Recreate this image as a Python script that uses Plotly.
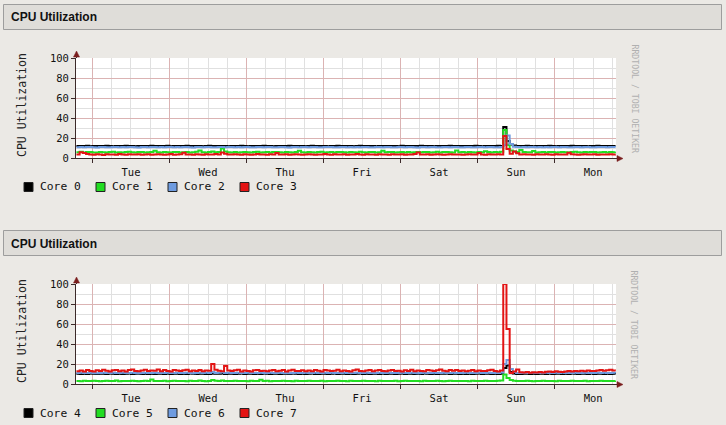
import pandas as pd
import plotly.graph_objects as go

W, H = 726, 425

# hourly samples, Mon 19:00 -> next Mon 19:00
times = pd.date_range("2010-03-01 19:00", periods=169, freq="h")

top_names = ["Core 0", "Core 1", "Core 2", "Core 3"]
bottom_names = ["Core 4", "Core 5", "Core 6", "Core 7"]
colors = ["#000000", "#22dd22", "#6f9ce0", "#e31414"]

core0 = [
    12.1, 11.9, 12.0, 12.2, 11.8, 12.0, 12.1, 11.9, 12.0, 12.2, 12.0, 11.8, 12.1, 12.0, 11.9, 12.2, 12.0, 12.1, 11.8, 12.0, 12.1, 11.9, 12.0, 12.2,
    12.0, 11.9, 12.1, 12.0, 12.2, 11.8, 12.0, 12.1, 11.9, 12.0, 12.2, 12.0, 11.9, 12.1, 12.0, 11.8, 12.0, 12.2, 12.1, 11.9, 12.0, 12.1, 12.0, 11.8,
    12.1, 12.0, 11.9, 12.2, 12.0, 11.8, 12.1, 12.0, 12.0, 11.9, 12.2, 12.1, 12.0, 11.8, 12.0, 12.1, 11.9, 12.0, 12.2, 12.0, 11.9, 12.1, 12.0, 11.8,
    12.0, 12.2, 11.9, 12.0, 12.1, 12.0, 11.8, 12.0, 12.1, 12.2, 11.9, 12.0, 12.0, 12.1, 11.8, 12.0, 12.2, 11.9, 12.0, 12.1, 12.0, 11.8, 12.1, 12.0,
    11.9, 12.0, 12.1, 12.0, 11.8, 12.2, 12.0, 11.9, 12.1, 12.0, 12.0, 12.2, 11.9, 12.0, 12.1, 11.8, 12.0, 12.1, 12.0, 11.9, 12.2, 12.0, 12.1, 11.9,
    12.0, 12.1, 11.9, 12.0, 12.2, 12.0, 11.8, 12.1, 12.0, 11.9, 12.0, 12.2, 12.1, 31.0, 17.0, 13.5, 12.6, 12.1, 11.9, 12.0, 12.2, 12.0, 11.8, 12.1,
    12.0, 11.9, 12.1, 12.2, 12.0, 11.8, 12.0, 12.1, 11.9, 12.0, 12.2, 12.0, 12.1, 11.9, 12.0, 11.8, 12.1, 12.0, 12.2, 11.9, 12.0, 12.1, 12.0, 11.9,
    12.0,
]
core1 = [
    5.8, 6.2, 5.4, 5.9, 6.1, 5.6, 5.5, 6.0, 5.7, 5.4, 5.9, 6.2, 5.6, 5.8, 5.5, 6.0, 6.3, 5.7, 5.4, 5.9, 6.1, 5.6, 5.8, 6.0,
    7.2, 5.7, 5.5, 6.0, 5.8, 5.4, 5.9, 6.1, 5.6, 5.8, 6.0, 5.5, 5.7, 6.2, 7.4, 5.8, 5.6, 6.0, 6.5, 5.7, 6.1, 9.5, 6.6, 5.8,
    5.6, 6.0, 5.5, 5.8, 6.1, 5.7, 5.4, 5.9, 6.2, 5.6, 5.8, 6.0, 5.5, 5.9, 6.1, 5.7, 5.6, 6.0, 5.8, 5.4, 5.9, 7.3, 5.8, 5.6,
    6.0, 5.7, 5.5, 5.9, 6.2, 5.6, 5.8, 6.0, 5.4, 5.9, 6.1, 5.7, 5.5, 6.0, 5.8, 5.6, 6.2, 5.7, 5.5, 5.9, 6.0, 5.6, 5.8, 7.2,
    5.7, 5.9, 6.1, 5.5, 5.8, 6.0, 5.6, 5.9, 5.4, 5.8, 6.1, 5.7, 5.9, 6.0, 5.5, 5.8, 6.2, 5.6, 5.9, 6.0, 5.7, 5.5, 7.6, 5.8,
    5.9, 5.6, 6.0, 5.8, 5.5, 6.1, 5.7, 6.8, 5.9, 5.6, 6.0, 5.8, 6.2, 28.0, 13.0, 7.5, 6.4, 5.9, 8.0, 6.1, 5.7, 5.8, 6.9, 5.6,
    5.8, 6.0, 5.6, 5.9, 6.1, 5.5, 5.8, 6.0, 5.7, 5.6, 5.9, 6.2, 5.8, 5.5, 6.0, 5.7, 5.9, 6.1, 5.6, 5.8, 6.0, 5.5, 5.9, 5.7,
    5.8,
]
core2 = [
    10.8, 11.0, 10.7, 10.9, 11.1, 10.8, 10.6, 10.9, 11.0, 10.8, 10.7, 11.1, 10.9, 10.8, 11.0, 10.7, 10.9, 11.0, 10.8, 10.6, 10.9, 11.1, 10.8, 10.9,
    11.0, 10.8, 10.9, 10.7, 11.0, 10.9, 10.8, 11.1, 10.7, 10.9, 11.0, 10.8, 10.6, 10.9, 11.0, 10.8, 11.1, 10.9, 10.7, 10.8, 11.0, 10.9, 10.8, 11.0,
    10.9, 10.7, 11.0, 10.8, 10.9, 11.1, 10.8, 10.7, 10.9, 11.0, 10.8, 10.9, 11.1, 10.7, 10.8, 11.0, 10.9, 10.8, 10.6, 10.9, 11.0, 10.8, 10.9, 11.1,
    10.8, 10.9, 11.0, 10.7, 10.8, 11.0, 10.9, 11.1, 10.8, 10.7, 10.9, 11.0, 10.8, 10.9, 10.7, 11.0, 10.8, 10.9, 11.1, 10.8, 10.7, 10.9, 11.0, 10.8,
    10.9, 11.0, 10.8, 10.7, 10.9, 11.1, 10.8, 10.9, 11.0, 10.8, 10.6, 10.9, 11.0, 10.8, 10.9, 11.1, 10.7, 10.8, 11.0, 10.9, 10.8, 11.0, 10.9, 10.7,
    10.8, 11.0, 10.9, 10.7, 10.8, 11.0, 10.9, 10.8, 11.1, 10.9, 10.7, 10.8, 11.0, 13.0, 22.5, 14.0, 11.2, 10.9, 10.8, 11.0, 10.7, 10.9, 11.0, 10.8,
    10.9, 10.8, 11.0, 10.7, 10.9, 11.0, 10.8, 11.1, 10.9, 10.8, 10.7, 11.0, 10.9, 10.8, 11.0, 10.9, 10.7, 10.8, 11.0, 10.9, 11.1, 10.8, 10.9, 11.0,
    10.9,
]
core3 = [
    3.6, 5.8, 5.0, 3.9, 3.4, 3.2, 3.7, 3.5, 3.1, 3.8, 3.4, 3.6, 3.3, 3.9, 3.5, 3.2, 3.7, 3.4, 3.6, 3.8, 3.3, 3.5, 3.7, 3.2,
    3.5, 3.8, 3.4, 3.2, 3.6, 3.9, 3.3, 3.5, 3.7, 5.2, 3.6, 3.4, 3.2, 3.8, 3.5, 3.3, 3.7, 3.4, 3.6, 3.9, 3.5, 5.6, 4.2, 3.6,
    3.4, 3.7, 3.5, 3.2, 3.8, 3.6, 3.3, 3.5, 3.9, 3.4, 3.6, 3.2, 3.7, 3.5, 5.1, 3.4, 3.6, 3.8, 3.3, 3.5, 3.7, 3.4, 3.2, 3.6,
    3.8, 3.5, 3.3, 3.6, 3.4, 3.9, 3.5, 3.2, 3.7, 3.6, 3.4, 3.8, 3.3, 3.5, 3.6, 3.9, 3.4, 3.2, 3.7, 3.5, 3.6, 3.3, 3.8, 3.4,
    3.6, 3.3, 3.7, 3.5, 3.4, 3.8, 3.2, 3.6, 3.5, 3.9, 5.4, 3.6, 3.4, 3.7, 3.3, 3.5, 3.8, 3.6, 3.2, 3.5, 3.7, 3.4, 3.6, 3.5,
    3.3, 3.6, 3.8, 3.4, 3.5, 5.0, 3.6, 3.3, 3.7, 3.5, 3.4, 3.8, 3.6, 22.0, 9.0, 4.2, 6.5, 4.8, 3.5, 3.7, 3.4, 3.6, 3.3, 3.8,
    3.5, 3.4, 3.7, 3.6, 3.3, 3.8, 3.5, 3.6, 3.4, 5.2, 3.7, 3.5, 3.3, 3.6, 3.8, 3.4, 3.5, 3.7, 3.2, 3.6, 3.5, 3.4, 3.7, 3.5,
    3.6,
]
core4 = [
    10.2, 10.0, 10.3, 10.1, 10.4, 10.2, 10.0, 10.3, 10.2, 10.1, 10.4, 10.2, 10.0, 10.3, 10.1, 10.2, 10.4, 10.0, 10.2, 10.3, 10.1, 10.2, 10.0, 10.3,
    10.1, 10.3, 10.2, 10.0, 10.4, 10.1, 10.2, 10.3, 10.0, 10.2, 10.1, 10.4, 10.2, 10.0, 10.3, 10.2, 10.1, 10.0, 10.6, 10.2, 10.3, 10.5, 10.1, 10.2,
    10.3, 10.1, 10.2, 10.4, 10.0, 10.2, 10.3, 10.1, 10.2, 10.0, 10.4, 10.2, 10.1, 10.3, 10.2, 10.0, 10.2, 10.3, 10.1, 10.4, 10.2, 10.0, 10.3, 10.1,
    10.2, 10.4, 10.1, 10.0, 10.3, 10.2, 10.1, 10.2, 10.4, 10.0, 10.3, 10.2, 10.1, 10.2, 10.0, 10.3, 10.4, 10.1, 10.2, 10.0, 10.3, 10.2, 10.1, 10.4,
    10.0, 10.2, 10.3, 10.1, 10.2, 10.4, 10.0, 10.3, 10.2, 10.1, 10.2, 10.0, 10.4, 10.3, 10.1, 10.2, 10.0, 10.3, 10.2, 10.4, 10.1, 10.2, 10.3, 10.0,
    10.2, 10.1, 10.3, 10.0, 10.2, 10.4, 10.1, 10.2, 10.3, 10.0, 10.2, 10.1, 10.3, 16.0, 18.5, 12.0, 10.4, 10.1, 10.0, 10.2, 10.3, 10.1, 10.2, 10.0,
    10.3, 10.2, 10.0, 10.4, 10.1, 10.2, 10.3, 10.0, 10.2, 10.1, 10.4, 10.2, 10.0, 10.3, 10.2, 10.1, 10.4, 10.0, 10.2, 10.3, 10.1, 10.2, 10.0, 10.3,
    10.2,
]
core5 = [
    3.0, 2.8, 3.2, 3.1, 2.9, 3.3, 3.0, 2.7, 3.1, 3.2, 2.9, 3.0, 3.4, 2.8, 3.1, 3.0, 2.9, 3.2, 3.1, 2.8, 3.0, 3.3, 2.9, 4.4,
    3.1, 2.9, 3.0, 3.2, 2.8, 3.1, 3.3, 2.9, 3.0, 3.1, 2.8, 3.2, 3.0, 2.9, 3.4, 3.1, 2.8, 3.0, 3.9, 3.2, 3.0, 3.6, 3.1, 2.9,
    3.0, 3.2, 2.9, 3.1, 3.0, 2.8, 3.3, 3.1, 2.9, 4.3, 3.0, 3.2, 2.8, 3.1, 3.0, 2.9, 3.3, 3.0, 3.1, 2.8, 3.2, 3.0, 2.9, 3.1,
    3.2, 2.9, 3.1, 3.0, 3.3, 2.8, 3.0, 3.1, 2.9, 3.2, 3.0, 3.1, 2.8, 3.3, 3.0, 2.9, 3.1, 3.2, 2.9, 3.0, 3.1, 2.8, 3.2, 3.0,
    2.9, 3.1, 3.0, 3.2, 2.8, 3.1, 3.3, 3.0, 2.9, 3.1, 3.0, 2.8, 3.2, 3.1, 2.9, 3.0, 3.3, 3.1, 2.8, 3.0, 3.2, 2.9, 3.1, 3.0,
    3.1, 3.0, 2.8, 3.2, 3.1, 2.9, 3.0, 3.3, 3.1, 2.9, 3.0, 3.2, 3.4, 9.5, 6.0, 4.0, 3.3, 3.1, 2.9, 3.0, 3.2, 3.1, 2.8, 3.0,
    3.0, 3.2, 2.9, 3.1, 3.0, 2.8, 3.2, 3.1, 2.9, 3.0, 3.3, 3.0, 2.9, 3.1, 3.2, 2.8, 3.0, 3.1, 2.9, 3.2, 3.0, 3.1, 2.9, 3.0,
    3.1,
]
core6 = [
    11.0, 11.2, 10.9, 11.1, 11.3, 11.0, 10.8, 11.1, 11.2, 11.0, 10.9, 11.3, 11.1, 11.0, 11.2, 10.9, 11.1, 11.2, 11.0, 10.8, 11.1, 11.3, 11.0, 11.1,
    11.2, 11.0, 11.1, 10.9, 11.2, 11.1, 11.0, 11.3, 10.9, 11.1, 11.2, 11.0, 10.8, 11.1, 11.2, 11.0, 11.3, 11.1, 12.0, 11.0, 11.2, 11.8, 11.0, 11.2,
    11.1, 10.9, 11.2, 11.0, 11.1, 11.3, 11.0, 10.9, 11.1, 11.2, 11.0, 11.1, 11.3, 10.9, 11.0, 11.2, 11.1, 11.0, 10.8, 11.1, 11.2, 11.0, 11.1, 11.3,
    11.0, 11.1, 11.2, 10.9, 11.0, 11.2, 11.1, 11.3, 11.0, 10.9, 11.1, 11.2, 11.0, 11.1, 10.9, 11.2, 11.0, 11.1, 11.3, 11.0, 10.9, 11.1, 11.2, 11.0,
    11.1, 11.2, 11.0, 10.9, 11.1, 11.3, 11.0, 11.1, 11.2, 11.0, 10.8, 11.1, 11.2, 11.0, 11.1, 11.3, 10.9, 11.0, 11.2, 11.1, 11.0, 11.2, 11.1, 10.9,
    11.0, 11.2, 11.1, 10.9, 11.0, 11.2, 11.1, 11.0, 11.3, 11.1, 10.9, 11.0, 11.6, 20.0, 24.0, 15.0, 12.0, 11.1, 11.0, 11.2, 10.9, 11.1, 11.2, 11.0,
    11.1, 11.0, 11.2, 10.9, 11.1, 11.2, 11.0, 11.3, 11.1, 11.0, 10.9, 11.2, 11.1, 11.0, 11.2, 11.1, 10.9, 11.0, 11.2, 11.1, 11.3, 11.0, 11.1, 11.2,
    11.1,
]
core7 = [
    12.8, 13.6, 12.4, 14.1, 13.0, 12.6, 13.8, 12.9, 14.3, 13.2, 12.5, 13.7, 14.0, 12.8, 13.4, 12.6, 13.9, 14.4, 13.1, 12.7, 13.5, 14.2, 12.9, 13.6,
    13.3, 14.5, 12.8, 13.9, 13.1, 12.6, 14.0, 13.4, 12.9, 13.8, 14.2, 12.7, 13.5, 13.0, 14.1, 12.8, 13.6, 13.2, 20.0, 14.2, 13.3, 12.7, 18.0, 13.5,
    12.9, 13.7, 14.2, 12.6, 13.4, 13.0, 12.5, 13.8, 14.1, 12.9, 13.3, 12.7, 13.6, 14.0, 12.8, 13.2, 13.9, 12.6, 13.5, 14.3, 12.9, 13.1, 13.7, 12.8,
    13.4, 12.7, 13.9, 13.2, 12.6, 14.0, 13.5, 12.9, 13.3, 14.2, 12.8, 13.6, 13.1, 12.5, 13.8, 14.4, 13.0, 12.7, 13.6, 13.9, 12.8, 13.4, 14.1, 13.0,
    12.7, 13.5, 14.0, 12.9, 13.3, 12.6, 13.8, 13.1, 14.2, 12.8, 13.6, 13.0, 12.7, 14.1, 13.4, 12.9, 13.7, 14.5, 13.2, 12.8, 13.9, 13.3, 14.0, 12.9,
    13.6, 12.8, 13.2, 14.0, 12.7, 13.5, 13.1, 12.9, 13.8, 14.2, 13.0, 12.6, 13.4, 100.0, 55.0, 11.0, 12.5, 14.6, 11.8, 11.4, 11.9, 11.2, 11.7, 11.5,
    12.0, 11.6, 12.2, 12.5, 11.9, 12.8, 12.3, 12.0, 12.6, 12.9, 12.4, 13.1, 12.7, 13.3, 12.8, 13.6, 13.0, 12.9, 13.5, 14.0, 13.2, 13.8, 14.3, 13.6,
    13.4,
]

panels = [
    (top_names, [core0, core1, core2, core3], 0),
    (bottom_names, [core4, core5, core6, core7], 226),
]

MONO = "DejaVu Sans Mono"
BG = "#ebe9e5"
AXIS = "#3c2a2a"
ARROW = "#7a1e1e"
MAJOR = "#dbb3b3"
MINOR = "#e0e0e0"


def px(x):
    return x / W


def py(y):
    return 1 - y / H


fig = go.Figure()
shapes = []
annotations = []
layout_axes = {}

for i, (names, series, off) in enumerate(panels):
    n = "" if i == 0 else str(i + 1)
    for name, values, color in zip(names, series, colors):
        fig.add_trace(go.Scatter(
            x=times, y=values, name=name, mode="lines", line_shape="hv",
            line=dict(color=color, width=2), xaxis="x" + n, yaxis="y" + n,
            showlegend=False,
        ))

    layout_axes["xaxis" + n] = dict(
        domain=[px(76), px(616)], anchor="y" + n, type="date", automargin=False,
        range=["2010-03-01 18:52", "2010-03-08 19:08"],
        tick0="2010-03-01", dtick=86400000, tickformat="%a", ticklabelmode="period",
        showgrid=True, gridcolor=MAJOR, gridwidth=1,
        minor=dict(dtick=21600000, showgrid=True, gridcolor=MINOR, gridwidth=1),
        ticks="outside", ticklen=4, tickcolor=AXIS,
        showline=True, linecolor=AXIS, linewidth=1, zeroline=False,
        tickfont=dict(family=MONO, size=10.5, color="#111"),
        fixedrange=True,
    )
    layout_axes["yaxis" + n] = dict(
        domain=[py(158 + off), py(58 + off)], anchor="x" + n, automargin=False,
        range=[0, 100], tick0=0, dtick=20,
        showgrid=True, gridcolor=MAJOR, gridwidth=1,
        minor=dict(dtick=10, showgrid=True, gridcolor=MINOR, gridwidth=1),
        ticks="outside", ticklen=4, tickcolor=AXIS,
        showline=True, linecolor=AXIS, linewidth=1, zeroline=False,
        tickfont=dict(family=MONO, size=10.5, color="#111"),
        fixedrange=True,
    )

    # header bar
    shapes.append(dict(type="rect", xref="paper", yref="paper",
                       x0=px(3.5), x1=px(721.5), y0=py(29.5 + off), y1=py(4.5 + off),
                       fillcolor="#dfddd9", line=dict(color="#9d9d9d", width=1), layer="below"))
    annotations.append(dict(text="CPU Utilization", xref="paper", yref="paper",
                            x=px(9), y=py(17.5 + off), xanchor="left", yanchor="middle",
                            showarrow=False,
                            font=dict(family="Liberation Sans, Arial", size=12, weight="bold", color="#111")))
    # y title
    annotations.append(dict(text="CPU Utilization", xref="paper", yref="paper",
                            x=px(22), y=py(105 + off), textangle=-90,
                            xanchor="center", yanchor="middle", showarrow=False,
                            font=dict(family=MONO, size=11.5, color="#222")))
    # watermark
    annotations.append(dict(text="RRDTOOL / TOBI OETIKER", xref="paper", yref="paper",
                            x=px(634), y=py(98.5 + off), textangle=90,
                            xanchor="center", yanchor="middle", showarrow=False,
                            font=dict(family=MONO, size=8.2, color="#b0b0b0")))
    # axis arrows
    shapes.append(dict(type="line", xref="paper", yref="paper",
                       x0=px(76.5), x1=px(76.5), y0=py(58 + off), y1=py(53 + off),
                       line=dict(color=AXIS, width=1)))
    shapes.append(dict(type="path", xref="paper", yref="paper",
                       path=f"M {px(76.5)},{py(51 + off)} L {px(73.5)},{py(57 + off)} L {px(79.5)},{py(57 + off)} Z",
                       fillcolor=ARROW, line=dict(color=ARROW, width=0.5)))
    shapes.append(dict(type="line", xref="paper", yref="paper",
                       x0=px(616), x1=px(618), y0=py(158.5 + off), y1=py(158.5 + off),
                       line=dict(color=AXIS, width=1)))
    shapes.append(dict(type="path", xref="paper", yref="paper",
                       path=f"M {px(623)},{py(158.5 + off)} L {px(617)},{py(155.5 + off)} L {px(617)},{py(161.5 + off)} Z",
                       fillcolor=ARROW, line=dict(color=ARROW, width=0.5)))

    # legend row
    for j, (name, color) in enumerate(zip(names, colors)):
        x0 = 24 + 72 * j
        yc = 187 + off
        shapes.append(dict(type="rect", xref="paper", yref="paper",
                           x0=px(x0), x1=px(x0 + 9), y0=py(yc + 4.5), y1=py(yc - 4.5),
                           fillcolor=color, line=dict(color="#222", width=1)))
        annotations.append(dict(text=name, xref="paper", yref="paper",
                                x=px(x0 + 14), y=py(yc), xanchor="left", yanchor="middle",
                                showarrow=False,
                                font=dict(family=MONO, size=11.3, color="#111")))

fig.update_layout(
    width=W, height=H,
    margin=dict(l=0, r=0, t=0, b=0, autoexpand=False),
    paper_bgcolor=BG, plot_bgcolor="#ffffff",
    shapes=shapes, annotations=annotations,
    hovermode=False,
    **layout_axes,
)

fig.write_html("out.html", config={"displayModeBar": False},
               post_script="document.body.style.margin='0';")
